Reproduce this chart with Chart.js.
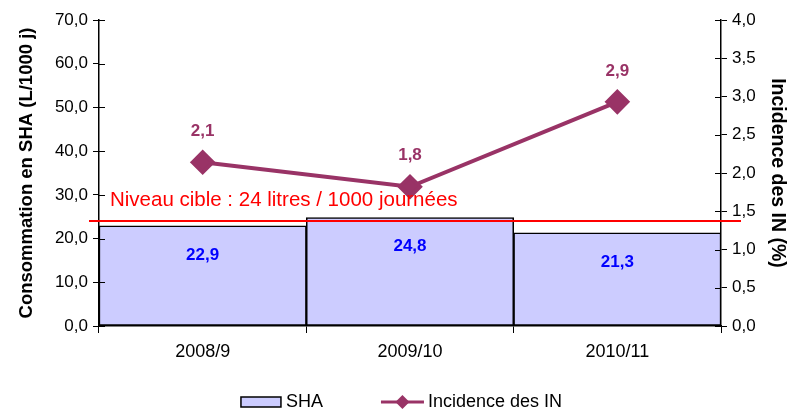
<!DOCTYPE html>
<html lang="fr">
<head>
<meta charset="UTF-8" />
<title>Consommation SHA et incidence des IN</title>
<script src="https://cdn.jsdelivr.net/npm/chart.js"></script>
<style>
  html, body { margin: 0; padding: 0; background: #fff; }
  #wrap { width: 789px; height: 409px; }
</style>
</head>
<body>
<div id="wrap"><canvas id="chart" width="789" height="409"></canvas></div>
<script>
const years = ['2008/9', '2009/10', '2010/11'];
const shaValues = [22.9, 24.8, 21.3];
const inValues = [2.14, 1.82, 2.93];
const targetLevel = 24;
const targetLabel = 'Niveau cible : 24 litres / 1000 journées';
const legendLabels = ['SHA', 'Incidence des IN'];

const FONT = 'Arial, "Liberation Sans", sans-serif';
const PLUM = '#993366';
const BAR = '#CCCCFF';

const fmt = v => Number(v).toFixed(1).replace('.', ',');

// target line, value labels, inner tick halves and legend
const overlay = {
  id: 'overlay',
  afterDraw(chart) {
    const ctx = chart.ctx;
    const area = chart.chartArea;
    ctx.save();

    // ticks cross the axis like in Excel
    ctx.strokeStyle = '#000';
    ctx.lineWidth = 1;
    const yl = chart.scales.y, yr = chart.scales.y1;
    yl.ticks.forEach(t => {
      const py = Math.round(yl.getPixelForValue(t.value)) + 0.5;
      ctx.beginPath(); ctx.moveTo(area.left, py); ctx.lineTo(area.left + 6, py); ctx.stroke();
    });
    yr.ticks.forEach(t => {
      const py = Math.round(yr.getPixelForValue(t.value)) + 0.5;
      ctx.beginPath(); ctx.moveTo(area.right - 6, py); ctx.lineTo(area.right, py); ctx.stroke();
    });

    const y = chart.scales.y.getPixelForValue(targetLevel);
    ctx.strokeStyle = '#FF0000';
    ctx.lineWidth = 2;
    ctx.beginPath();
    ctx.moveTo(area.left - 10, y);
    ctx.lineTo(area.right + 20, y);
    ctx.stroke();
    ctx.fillStyle = '#FF0000';
    ctx.font = '20.5px ' + FONT;
    ctx.textBaseline = 'alphabetic';
    ctx.fillText(targetLabel, area.left + 11, y - 15);

    // bar values
    const bars = chart.getDatasetMeta(0).data;
    ctx.font = 'bold 17px ' + FONT;
    ctx.fillStyle = '#0000FF';
    ctx.textAlign = 'center';
    ctx.textBaseline = 'middle';
    bars.forEach((b, i) => ctx.fillText(fmt(shaValues[i]), b.x, b.y + 29));

    // line values
    const pts = chart.getDatasetMeta(1).data;
    ctx.fillStyle = PLUM;
    pts.forEach((p, i) => ctx.fillText(fmt(inValues[i]), p.x, p.y - 31));

    // legend
    ctx.font = '18px ' + FONT;
    ctx.textAlign = 'left';
    const w0 = ctx.measureText(legendLabels[0]).width;
    const w1 = ctx.measureText(legendLabels[1]).width;
    const total = 40 + 5 + w0 + 58 + 43 + 4 + w1;
    let lx = chart.width / 2 + 7 - total / 2;
    const ly = 402;
    ctx.fillStyle = BAR;
    ctx.fillRect(lx, ly - 5, 40, 10);
    ctx.strokeStyle = '#000';
    ctx.lineWidth = 1.5;
    ctx.strokeRect(lx, ly - 5, 40, 10);
    ctx.fillStyle = '#000';
    ctx.fillText(legendLabels[0], lx + 45, ly);
    lx += 45 + w0 + 58;
    ctx.strokeStyle = PLUM;
    ctx.lineWidth = 3;
    ctx.beginPath(); ctx.moveTo(lx, ly); ctx.lineTo(lx + 43, ly); ctx.stroke();
    ctx.fillStyle = PLUM;
    const cx = lx + 21.5;
    ctx.beginPath(); ctx.moveTo(cx, ly - 7); ctx.lineTo(cx + 7, ly); ctx.lineTo(cx, ly + 7); ctx.lineTo(cx - 7, ly); ctx.closePath(); ctx.fill();
    ctx.fillStyle = '#000';
    ctx.fillText(legendLabels[1], lx + 47, ly);

    ctx.restore();
  }
};

new Chart(document.getElementById('chart'), {
  data: {
    labels: years,
    datasets: [
      {
        type: 'bar',
        label: legendLabels[0],
        data: shaValues,
        backgroundColor: BAR,
        borderColor: '#000000',
        borderWidth: 1.5,
        borderSkipped: false,
        barPercentage: 1,
        categoryPercentage: 1,
        yAxisID: 'y',
        order: 2
      },
      {
        type: 'line',
        label: legendLabels[1],
        data: inValues,
        borderColor: PLUM,
        backgroundColor: PLUM,
        borderWidth: 4,
        pointStyle: 'rectRot',
        pointRadius: 10,
        pointHoverRadius: 10,
        yAxisID: 'y1',
        order: 1
      }
    ]
  },
  options: {
    responsive: false,
    animation: false,
    layout: { padding: { top: 20, bottom: 43 } },
    plugins: {
      tooltip: { enabled: false },
      legend: { display: false }
    },
    scales: {
      x: {
        offset: true,
        grid: { offset: true, drawOnChartArea: false, drawTicks: true, tickLength: 7, color: '#000' },
        border: { color: '#000', width: 1.5 },
        ticks: { color: '#000', font: { family: FONT, size: 18 }, padding: 8 },
        afterFit: s => { s.height = 40; }
      },
      y: {
        position: 'left',
        min: 0, max: 70,
        ticks: { stepSize: 10, color: '#000', font: { family: FONT, size: 17 }, callback: fmt, padding: 5 },
        grid: { drawOnChartArea: false, tickLength: 6, color: '#000' },
        border: { color: '#000', width: 1.5 },
        title: { display: true, text: 'Consommation en SHA (L/1000 j)', color: '#000', font: { family: FONT, size: 18.5, weight: 'bold' }, padding: { top: 16, bottom: 0 } },
        afterFit: s => { s.width = 99; }
      },
      y1: {
        position: 'right',
        min: 0, max: 4,
        ticks: { stepSize: 0.5, color: '#000', font: { family: FONT, size: 17 }, callback: fmt, padding: 5 },
        grid: { drawOnChartArea: false, tickLength: 6, color: '#000' },
        border: { color: '#000', width: 1.5 },
        title: { display: true, text: 'Incidence des IN (%)', color: '#000', font: { family: FONT, size: 19.5, weight: 'bold' }, padding: { top: 0, bottom: 0 } },
        afterFit: s => { s.width = 68; }
      }
    }
  },
  plugins: [overlay]
});
</script>
</body>
</html>
